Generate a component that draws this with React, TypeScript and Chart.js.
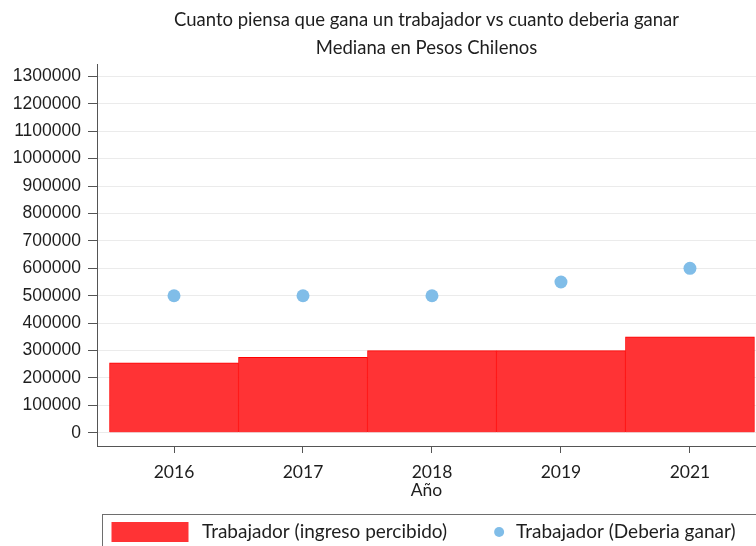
import React, { useEffect, useRef } from "react";
import { Chart, registerables } from "chart.js";

Chart.register(...registerables);

const years = ["2016", "2017", "2018", "2019", "2021"];
const perceived = [255000, 275000, 300000, 300000, 350000];
const shouldEarn = [500000, 500000, 500000, 550000, 600000];
const yTicks = [0, 100000, 200000, 300000, 400000, 500000, 600000, 700000, 800000, 900000, 1000000, 1100000, 1200000, 1300000];
const titleLines = [
  "Cuanto piensa que gana un trabajador vs cuanto deberia ganar",
  "Mediana en Pesos Chilenos",
];
const xTitle = "Año";
const seriesLabels = ["Trabajador (ingreso percibido)", "Trabajador (Deberia ganar)"];

const BAR_COLOR = "#ff3335";
const BAR_BORDER = "#ff0000";
const DOT_COLOR = "#80bde8";
const TEXT = "#1e1e1e";
const AXIS = "#555555";
const FONT = "Lato";

const boxLegend = {
  id: "boxLegend",
  afterDraw(chart: any) {
    const { ctx, chartArea } = chart;
    const ds0 = chart.data.datasets[0];
    const ds1 = chart.data.datasets[1];
    const left = chartArea.left + 5.5;
    const top = chartArea.bottom + 68.5;
    ctx.save();
    ctx.strokeStyle = "#6e6e6e";
    ctx.lineWidth = 1;
    ctx.strokeRect(left, top, chart.width - left + 20, 60);
    const cy = top + 17.5;
    ctx.fillStyle = ds0.backgroundColor;
    ctx.fillRect(left + 9, cy - 10, 77, 20);
    ctx.font = `19px ${FONT}`;
    ctx.fillStyle = TEXT;
    ctx.textBaseline = "middle";
    ctx.textAlign = "left";
    const t1x = left + 99.5;
    ctx.fillText(ds0.label, t1x, cy);
    const w1 = ctx.measureText(ds0.label).width;
    const dotX = t1x + w1 + 52;
    ctx.beginPath();
    ctx.fillStyle = ds1.backgroundColor;
    ctx.arc(dotX, cy, 5, 0, Math.PI * 2);
    ctx.fill();
    ctx.fillStyle = TEXT;
    ctx.fillText(ds1.label, dotX + 17, cy);
    ctx.restore();
  },
};

export default function App() {
  const ref = useRef<HTMLCanvasElement | null>(null);

  useEffect(() => {
    if (!ref.current) return;
    const chart = new Chart(ref.current, {
      type: "bar",
      data: {
        datasets: [
          {
            type: "bar",
            label: seriesLabels[0],
            data: perceived.map((v, i) => ({ x: i, y: v })),
            backgroundColor: BAR_COLOR,
            borderColor: BAR_BORDER,
            borderWidth: 1,
            categoryPercentage: 1,
            barPercentage: 1,
          },
          {
            type: "scatter",
            label: seriesLabels[1],
            data: shouldEarn.map((v, i) => ({ x: i, y: v })),
            backgroundColor: DOT_COLOR,
            borderWidth: 0,
            pointRadius: 6.5,
          },
        ],
      } as any,
      options: {
        animation: false,
        responsive: false,
        layout: { autoPadding: false, padding: { left: 0, right: 0, top: 0, bottom: 45 } },
        plugins: {
          legend: { display: false },
          tooltip: { enabled: false },
          title: {
            display: true,
            text: titleLines,
            fullSize: false,
            color: TEXT,
            font: { family: FONT, size: 18.5, weight: "normal", lineHeight: 28 / 18.5 },
            padding: { top: 6, bottom: 2 },
          },
        },
        scales: {
          x: {
            type: "linear",
            offset: false,
            min: -0.597,
            max: 4.512,
            afterBuildTicks: (s: any) => {
              s.ticks = years.map((_, i) => ({ value: i }));
            },
            afterFit: (s: any) => {
              s.height = 55;
            },
            ticks: {
              callback: (v: any) => years[v],
              color: TEXT,
              font: { family: FONT, size: 17.5 },
              padding: 9,
              maxRotation: 0,
              autoSkip: false,
            },
            grid: { offset: false, drawOnChartArea: false, tickLength: 7, tickColor: AXIS, color: AXIS },
            border: { color: AXIS, width: 1 },
            title: {
              display: true,
              text: xTitle,
              color: TEXT,
              font: { family: FONT, size: 17.5 },
              padding: { top: 0, bottom: 0 },
            },
          },
          y: {
            min: -48000,
            max: 1345000,
            afterBuildTicks: (s: any) => {
              s.ticks = yTicks.map((v) => ({ value: v }));
            },
            afterFit: (s: any) => {
              s.width = 97;
            },
            ticks: {
              callback: (v: any) => String(v),
              color: TEXT,
              font: { family: "Liberation Sans", size: 17.5 },
              padding: 7,
              autoSkip: false,
            },
            grid: { color: "#ebebeb", tickColor: AXIS, tickLength: 9 },
            border: { color: AXIS, width: 1 },
          },
        },
      } as any,
      plugins: [boxLegend],
    });
    return () => chart.destroy();
  }, []);

  return (
    <div style={{ position: "fixed", left: 0, top: 0, width: 756, height: 546, background: "#fff" }}>
      <canvas ref={ref} width={756} height={546} style={{ display: "block", width: 756, height: 546 }} />
    </div>
  );
}
